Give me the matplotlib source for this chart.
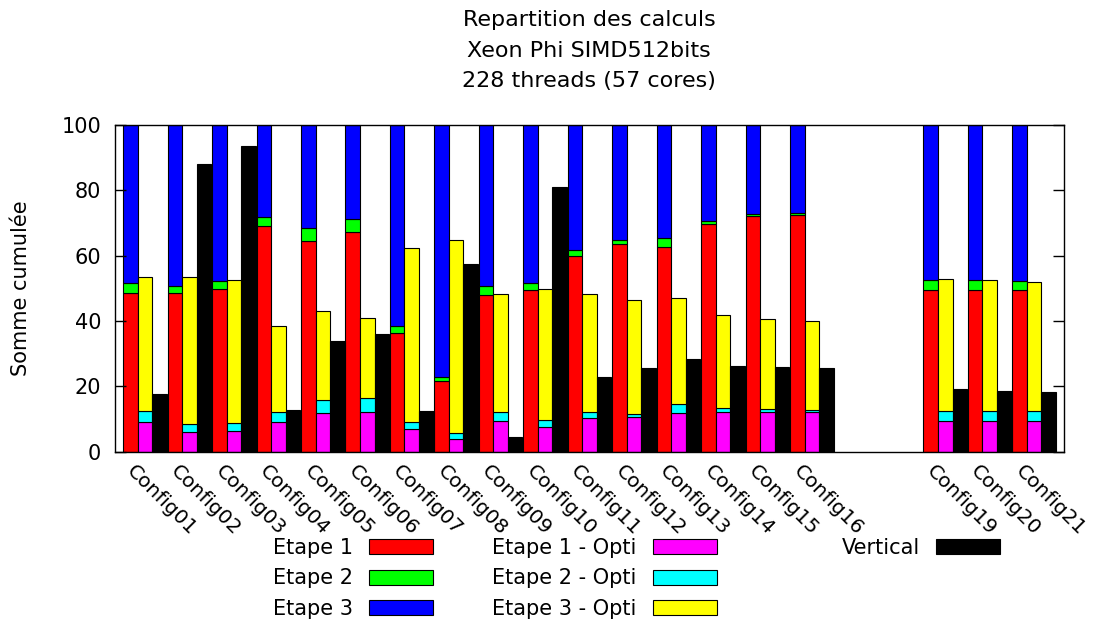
import numpy as np
import matplotlib
matplotlib.use("Agg")
import matplotlib.pyplot as plt
from matplotlib.patches import Patch
from matplotlib.transforms import ScaledTranslation

plt.rcParams['font.family'] = ['DejaVu Sans']

# ---- data (percent) ----
configs = ["Config01", "Config02", "Config03", "Config04", "Config05", "Config06",
           "Config07", "Config08", "Config09", "Config10", "Config11", "Config12",
           "Config13", "Config14", "Config15", "Config16", "", "",
           "Config19", "Config20", "Config21"]

# cumulated tops (NaN = no data for that slot)
etape1_top = [48.6, 48.6, 49.9, 69.0, 64.4, 67.1, 36.2, 21.6, 47.9, 49.6, 59.8,
              63.4, 62.6, 69.5, 72.0, 72.3, np.nan, np.nan, 49.4, 49.4, 49.3]
etape2_top = [51.7, 50.8, 52.1, 71.9, 68.5, 71.3, 38.5, 22.9, 50.8, 51.6, 61.7,
              64.6, 65.4, 70.7, 72.8, 73.1, np.nan, np.nan, 52.6, 52.6, 52.3]
opti1_top = [9.2, 5.9, 6.3, 9.0, 11.7, 12.0, 6.8, 4.0, 9.3, 7.6, 10.2,
             10.6, 11.7, 12.0, 12.2, 12.1, np.nan, np.nan, 9.3, 9.3, 9.3]
opti2_top = [12.4, 8.4, 8.7, 12.0, 15.9, 16.3, 9.2, 5.6, 12.0, 9.7, 12.0,
             11.5, 14.5, 13.3, 13.0, 12.9, np.nan, np.nan, 12.4, 12.4, 12.4]
opti3_top = [53.5, 53.4, 52.4, 38.5, 42.9, 41.0, 62.2, 64.6, 48.1, 49.8, 48.2,
             46.5, 46.9, 41.7, 40.5, 40.0, np.nan, np.nan, 52.9, 52.6, 51.9]
vertical = [17.5, 87.9, 93.4, 12.6, 33.8, 35.9, 12.5, 57.5, 4.4, 80.8, 22.7,
            25.7, 28.5, 26.1, 25.9, 25.5, np.nan, np.nan, 19.1, 18.5, 18.2]

etape1 = np.array(etape1_top)
etape2 = np.array(etape2_top) - etape1
etape3 = 100.0 - np.array(etape2_top)
opti1 = np.array(opti1_top)
opti2 = np.array(opti2_top) - opti1
opti3 = np.array(opti3_top) - np.array(opti2_top)
vert = np.array(vertical)

# ---- figure ----
fig = plt.figure(figsize=(10.95, 6.22), dpi=100)
ax = fig.add_axes([0.105, 0.2738, 0.8663, 0.5257])

FS = 15
idx = np.arange(len(configs))
ok = ~np.isnan(etape1)
x = idx[ok]
w = 0.327
ekw = dict(width=w, edgecolor='black', linewidth=0.8)

ax.bar(x - w, etape1[ok], color='#ff0000', **ekw)
ax.bar(x - w, etape2[ok], bottom=etape1[ok], color='#00ff00', **ekw)
ax.bar(x - w, etape3[ok], bottom=(etape1 + etape2)[ok], color='#0000ff', **ekw)
ax.bar(x, opti1[ok], color='#ff00ff', **ekw)
ax.bar(x, opti2[ok], bottom=opti1[ok], color='#00ffff', **ekw)
ax.bar(x, opti3[ok], bottom=(opti1 + opti2)[ok], color='#ffff00', **ekw)
ax.bar(x + w, vert[ok], color='#000000', **ekw)

ax.set_xlim(-0.675, 20.66)
ax.set_ylim(0, 100)
ax.set_yticks([0, 20, 40, 60, 80, 100])
ax.tick_params(axis='y', direction='in', length=8, width=1, labelsize=FS,
               right=True, pad=10)
ax.set_xticks(x)
ax.set_xticklabels([configs[i] for i in x], rotation=-45, ha='left', va='top',
                   rotation_mode='anchor', fontsize=14.5)
ax.tick_params(axis='x', length=0, pad=7)
shift = ScaledTranslation(-9 / 100, 0, fig.dpi_scale_trans)
for lab in ax.get_xticklabels():
    lab.set_transform(lab.get_transform() + shift)
for s in ax.spines.values():
    s.set_linewidth(1)

ax.set_ylabel("Somme cumulée", fontsize=FS, labelpad=22)
ax.set_title("Repartition des calculs\nXeon Phi SIMD512bits\n228 threads (57 cores)",
             fontsize=16, pad=27, linespacing=1.65)

# ---- legend (three columns, gnuplot style: label then sample) ----
def mk(c):
    return Patch(facecolor=c, edgecolor='black', linewidth=0.8)

cols = [
    (["Etape 1", "Etape 2", "Etape 3"], ['#ff0000', '#00ff00', '#0000ff'], 433),
    (["Etape 1 - Opti", "Etape 2 - Opti", "Etape 3 - Opti"], ['#ff00ff', '#00ffff', '#ffff00'], 717),
    (["Vertical"], ['#000000'], 1000),
]
for labels, colors, xr in cols:
    fig.legend([mk(c) for c in colors], labels, loc='upper right',
               bbox_to_anchor=(xr / 1095, 1 - 538 / 622), markerfirst=False,
               frameon=False, fontsize=FS, handlelength=3.05, handleheight=0.72,
               handletextpad=0.8, labelspacing=0.5, borderpad=0, borderaxespad=0)

fig.savefig("out.png", dpi=100)
